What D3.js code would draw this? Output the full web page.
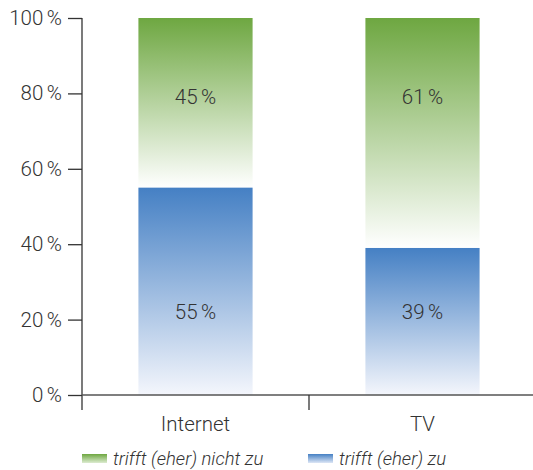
<!DOCTYPE html>
<html>
<head>
<meta charset="utf-8">
<script src="https://cdn.jsdelivr.net/npm/d3@7"></script>
<style>
  html, body { margin: 0; padding: 0; background: #fff; }
  svg { display: block; font-family: Roboto, "Liberation Sans", sans-serif; }
</style>
</head>
<body>
<svg id="chart" width="533" height="470"></svg>
<script>
// Stacked share per medium
const categories = ["Internet", "TV"];
const agreeValues = [55, 39];        // trifft (eher) zu
const disagreeValues = [45, 61];     // trifft (eher) nicht zu
const yTicks = [0, 20, 40, 60, 80, 100];
const seriesNames = ["trifft (eher) nicht zu", "trifft (eher) zu"];
const labelLevels = [79, 22];        // vertical placement of value labels (in %)

const svg = d3.select("#chart");
const W = 533, H = 470;
const plotLeft = 82, plotTop = 18, plotBottom = 395, plotRight = 536;
const FONT = "Roboto, 'Liberation Sans', sans-serif";
const pct = d => d + "\u2006%";

const x = d3.scaleBand().domain(categories).range([plotLeft, plotRight]).padding(0);
const y = d3.scaleLinear().domain([0, 100]).range([plotBottom, plotTop]);

const defs = svg.append("defs");
function grad(id, c1, c2) {
  const g = defs.append("linearGradient").attr("id", id)
    .attr("x1", 0).attr("y1", 0).attr("x2", 0).attr("y2", 1);
  g.append("stop").attr("offset", "0%").attr("stop-color", c1);
  g.append("stop").attr("offset", "100%").attr("stop-color", c2);
}
grad("gGreen", "#6ea741", "#ffffff");
grad("gBlue", "#4580c4", "#f4f6fc");
grad("gGreenLeg", "#6ea741", "#dcebd0");
grad("gBlueLeg", "#4580c4", "#dde6f5");

const step = x.step();
const bw = step * 0.503;
const bx = d => x(d) + (step - bw) / 2;

// bars
const g = svg.append("g");
categories.forEach((c, i) => {
  const a = agreeValues[i], n = disagreeValues[i];
  g.append("rect").attr("x", bx(c)).attr("width", bw)
    .attr("y", y(a + n)).attr("height", y(a) - y(a + n))
    .attr("fill", "url(#gGreen)");
  g.append("rect").attr("x", bx(c)).attr("width", bw)
    .attr("y", y(a)).attr("height", y(0) - y(a))
    .attr("fill", "url(#gBlue)");
  g.append("text").attr("x", x(c) + step / 2).attr("y", y(labelLevels[0]))
    .attr("text-anchor", "middle").attr("dominant-baseline", "central")
    .attr("font-size", 20.5).attr("font-weight", 300).attr("fill", "#333")
    .text(pct(n));
  g.append("text").attr("x", x(c) + step / 2).attr("y", y(labelLevels[1]))
    .attr("text-anchor", "middle").attr("dominant-baseline", "central")
    .attr("font-size", 20.5).attr("font-weight", 300).attr("fill", "#333")
    .text(pct(a));
});

// y axis
const yAxis = svg.append("g").attr("transform", `translate(${plotLeft},0)`)
  .call(d3.axisLeft(y).tickValues(yTicks).tickSize(14).tickPadding(6).tickFormat(pct));
yAxis.select(".domain").remove();
yAxis.append("line").attr("x1", 0).attr("x2", 0).attr("y1", plotTop).attr("y2", plotBottom + 15)
  .attr("stroke", "#333").attr("stroke-width", 1.3);
yAxis.selectAll(".tick line").attr("stroke", "#333").attr("stroke-width", 1.3);
yAxis.selectAll(".tick text").attr("font-size", 20.5).attr("font-weight", 300)
  .attr("fill", "#333").attr("font-family", FONT);

// x axis
const xAxis = svg.append("g").attr("transform", `translate(0,${plotBottom})`);
xAxis.append("line").attr("x1", plotLeft).attr("x2", W).attr("y1", 0).attr("y2", 0)
  .attr("stroke", "#555").attr("stroke-width", 1.5);
categories.slice(1).forEach(c => {
  xAxis.append("line").attr("x1", x(c)).attr("x2", x(c)).attr("y1", 0).attr("y2", 15)
    .attr("stroke", "#333").attr("stroke-width", 1.3);
});
categories.forEach(c => {
  xAxis.append("text").attr("x", x(c) + step / 2).attr("y", 29)
    .attr("text-anchor", "middle").attr("dominant-baseline", "central")
    .attr("font-size", 20.5).attr("font-weight", 300).attr("fill", "#333").text(c);
});

// legend
const legend = svg.append("g");
const legX = [82, 308];
const legFill = ["url(#gGreenLeg)", "url(#gBlueLeg)"];
seriesNames.forEach((s, i) => {
  legend.append("rect").attr("x", legX[i]).attr("y", 454).attr("width", 25).attr("height", 9)
    .attr("fill", legFill[i]);
  legend.append("text").attr("x", legX[i] + 31).attr("y", 465)
    .attr("font-size", 18.5).attr("font-style", "italic").attr("font-weight", 300)
    .attr("fill", "#333").text(s);
});
</script>
</body>
</html>
